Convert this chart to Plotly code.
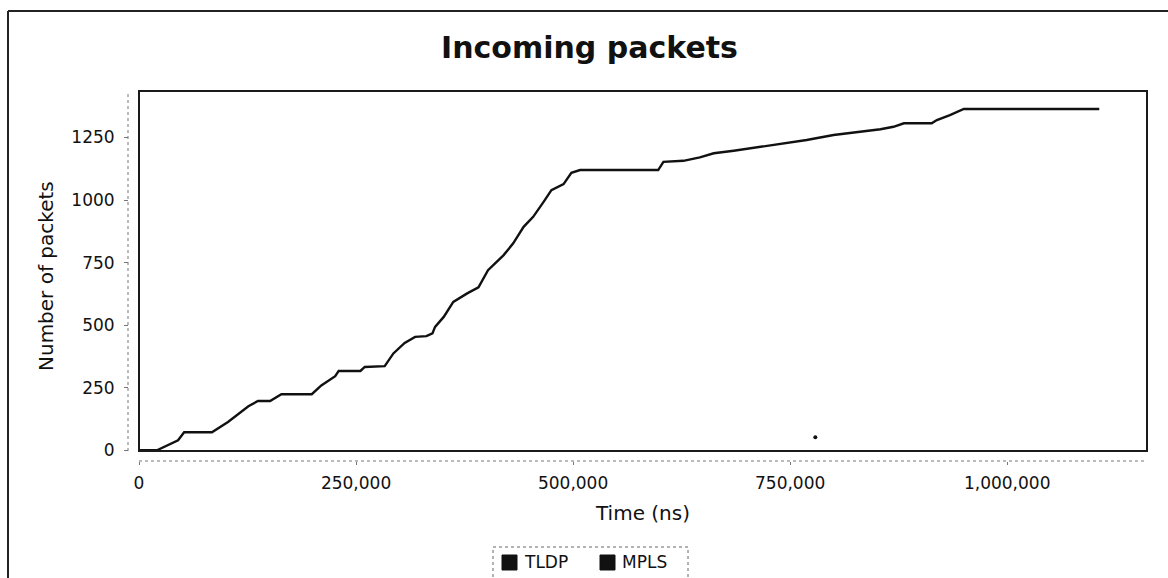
import plotly.graph_objects as go

# Cumulative incoming packets over simulation time
time_ns = [0, 20700, 45000, 52000, 84000, 102500, 126000, 137000, 151000, 164000,
           199000, 210000, 226000, 230000, 255000, 260000, 283000, 293000, 306000, 318000,
           331000, 338000, 341000, 351000, 362000, 378000, 391000, 402000, 420000, 431000,
           443000, 454000, 466000, 475000, 489000, 498000, 508000, 598000, 604000, 627000,
           646000, 662000, 685000, 708000, 738000, 769000, 800000, 831000, 854000, 869000,
           881000, 913000, 919000, 934000, 950000, 1106000]
tldp_packets = [0, 0, 40, 72, 72, 113, 176, 197, 197, 224,
                224, 259, 296, 317, 317, 333, 336, 387, 429, 453,
                456, 467, 493, 533, 593, 627, 651, 720, 780, 827,
                893, 933, 993, 1040, 1064, 1109, 1120, 1120, 1153, 1157,
                1171, 1187, 1197, 1209, 1223, 1240, 1260, 1273, 1283, 1293,
                1307, 1307, 1320, 1340, 1364, 1364]

mpls_time_ns = [779000]
mpls_packets = [52]

series_names = ["TLDP", "MPLS"]
y_ticks = [0, 250, 500, 750, 1000, 1250]
y_tick_text = ["0", "250", "500", "750", "1000", "1250"]
x_ticks = [0, 250000, 500000, 750000, 1000000]
x_tick_text = ["0", "250,000", "500,000", "750,000", "1,000,000"]

W, H = 1168, 578
FONT = "DejaVu Sans"
INK = "#111111"


def px_x(p):
    return p / W


def px_y(p):
    return 1 - p / H


plot_l, plot_r, plot_t, plot_b = 139, 1147, 91, 451

fig = go.Figure()
fig.add_trace(go.Scatter(x=time_ns, y=tldp_packets, mode="lines", name=series_names[0],
                         line=dict(color=INK, width=2.4),
                         showlegend=False, hoverinfo="skip"))
fig.add_trace(go.Scatter(x=mpls_time_ns, y=mpls_packets, mode="markers", name=series_names[1],
                         marker=dict(color=INK, size=4),
                         showlegend=False, hoverinfo="skip"))

shapes = [
    # outer frame (left and top edges)
    dict(type="line", xref="paper", yref="paper", x0=px_x(8), x1=px_x(8),
         y0=px_y(11), y1=px_y(H + 5), line=dict(color="#222222", width=2)),
    dict(type="line", xref="paper", yref="paper", x0=px_x(8), x1=px_x(W + 5),
         y0=px_y(11), y1=px_y(11), line=dict(color="#222222", width=2)),
    # plot border
    dict(type="rect", xref="paper", yref="paper", x0=px_x(plot_l), x1=px_x(plot_r),
         y0=px_y(plot_b), y1=px_y(plot_t), line=dict(color="#1a1a1a", width=2)),
    # offset dotted axis lines
    dict(type="line", xref="paper", yref="paper", x0=px_x(128), x1=px_x(128),
         y0=px_y(plot_b), y1=px_y(plot_t), line=dict(color="#777777", width=1, dash="dot")),
    dict(type="line", xref="paper", yref="paper", x0=px_x(plot_l), x1=px_x(plot_r),
         y0=px_y(461), y1=px_y(461), line=dict(color="#777777", width=1, dash="dot")),
    # legend box
    dict(type="rect", xref="paper", yref="paper", x0=px_x(493), x1=px_x(688),
         y0=px_y(580), y1=px_y(547), line=dict(color="#666666", width=1, dash="dot")),
]

annotations = [
    dict(text="<b>Incoming packets</b>", xref="paper", yref="paper",
         x=px_x(589), y=px_y(47), showarrow=False, xanchor="center", yanchor="middle",
         font=dict(family=FONT, size=30, color=INK)),
    dict(text="Number of packets", xref="paper", yref="paper", textangle=-90,
         x=px_x(46), y=px_y(276), showarrow=False, xanchor="center", yanchor="middle",
         font=dict(family=FONT, size=20, color=INK)),
    dict(text="Time (ns)", xref="paper", yref="paper",
         x=px_x(642), y=px_y(513), showarrow=False, xanchor="center", yanchor="middle",
         font=dict(family=FONT, size=20, color=INK)),
]

# legend entries: square swatch followed by the series name
legend_slots = [502, 600]
for name, sx in zip(series_names, legend_slots):
    shapes.append(dict(type="rect", xref="paper", yref="paper",
                       x0=px_x(sx), x1=px_x(sx + 15), y0=px_y(570), y1=px_y(555),
                       fillcolor=INK, line=dict(color=INK, width=1)))
    annotations.append(dict(text=name, xref="paper", yref="paper",
                            x=px_x(sx + 20), y=px_y(562), showarrow=False,
                            xanchor="left", yanchor="middle",
                            font=dict(family=FONT, size=17, color=INK)))

fig.update_layout(
    width=W, height=H,
    margin=dict(l=0, r=0, t=0, b=0),
    paper_bgcolor="white", plot_bgcolor="white",
    font=dict(family=FONT, size=17, color=INK),
    showlegend=False,
    shapes=shapes,
    annotations=annotations,
    xaxis=dict(domain=[px_x(plot_l), px_x(plot_r)], range=[0, 1161000],
               anchor="free", position=px_y(461),
               tickvals=x_ticks, ticktext=x_tick_text,
               ticks="outside", ticklen=3, tickcolor="#777777",
               showgrid=False, zeroline=False, showline=False, automargin=False,
               ticklabelstandoff=4),
    yaxis=dict(domain=[px_y(plot_b), px_y(plot_t)], range=[-3, 1436],
               anchor="free", position=px_x(128),
               tickvals=y_ticks, ticktext=y_tick_text,
               ticks="outside", ticklen=4, tickcolor="#777777",
               showgrid=False, zeroline=False, showline=False, automargin=False,
               ticklabelstandoff=6),
)

fig.write_html("out.html")
